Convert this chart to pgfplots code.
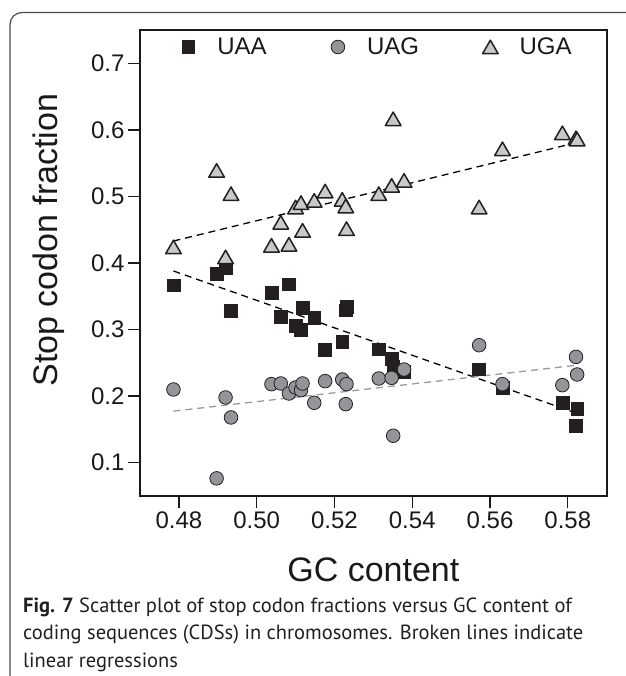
\documentclass[border=0pt]{standalone}
\usepackage{fontspec}
\setmainfont{Liberation Sans}
\newfontfamily\capfont{PT Sans}
\usepackage{pgfplots}
\usepackage{pgfplotstable}
\pgfplotsset{compat=1.18}
\definecolor{uaa}{HTML}{231F20}
\definecolor{uag}{HTML}{939598}
\definecolor{uga}{HTML}{C8C9CB}
\definecolor{regg}{HTML}{9A9A9A}

\pgfplotstableread{
x y
0.4786 0.3665
0.4897 0.384
0.4920 0.393
0.4934 0.328
0.5038 0.3555
0.5062 0.319
0.5083 0.368
0.5100 0.3055
0.5114 0.300
0.5118 0.333
0.5148 0.318
0.5176 0.270
0.5220 0.2815
0.5229 0.329
0.5231 0.334
0.5314 0.2705
0.5347 0.2565
0.5351 0.244
0.5379 0.2365
0.5572 0.2405
0.5632 0.2125
0.5786 0.1905
0.5821 0.155
0.5824 0.1815
}\uaa

\pgfplotstableread{
x y
0.4786 0.210
0.4897 0.0765
0.4920 0.198
0.4934 0.168
0.5038 0.218
0.5062 0.219
0.5083 0.204
0.5100 0.213
0.5114 0.209
0.5118 0.219
0.5148 0.190
0.5176 0.2225
0.5220 0.225
0.5229 0.188
0.5231 0.218
0.5314 0.2265
0.5347 0.2275
0.5351 0.1405
0.5379 0.240
0.5572 0.2765
0.5632 0.218
0.5786 0.2165
0.5821 0.259
0.5824 0.2325
}\uag

\pgfplotstableread{
x y
0.4786 0.424
0.4897 0.539
0.4920 0.409
0.4934 0.504
0.5038 0.4265
0.5062 0.461
0.5083 0.428
0.5100 0.484
0.5114 0.4905
0.5118 0.449
0.5148 0.494
0.5176 0.508
0.5220 0.4955
0.5229 0.4855
0.5231 0.4515
0.5314 0.504
0.5347 0.5165
0.5351 0.6165
0.5379 0.524
0.5572 0.484
0.5632 0.5715
0.5786 0.5955
0.5821 0.588
0.5824 0.586
}\uga

\begin{document}
\begin{tikzpicture}[x=1pt,y=1pt]
\useasboundingbox (0,0) rectangle (625,676);
\draw[black!70, line width=1.2pt, rounded corners=12pt] (10,-50) -- (10,663.5) -- (700,663.5);
\begin{axis}[
  at={(140pt,180pt)}, anchor=south west,
  scale only axis, width=466.7pt, height=466pt,
  xmin=0.47, xmax=0.59, ymin=0.05, ymax=0.75,
  axis line style={line width=1.6pt, black!90},
  tick style={line width=1.3pt, black!90},
  tick align=outside, tick pos=left, major tick length=12pt,
  xtick={0.48,0.50,0.52,0.54,0.56,0.58},
  xticklabels={0.48,0.50,0.52,0.54,0.56,0.58},
  ytick={0.1,0.2,0.3,0.4,0.5,0.6,0.7},
  yticklabels={0.1,0.2,0.3,0.4,0.5,0.6,0.7},
  ticklabel style={font=\fontsize{24}{28}\selectfont, text=black!90},
  xlabel={GC content}, ylabel={Stop codon fraction},
  label style={font=\fontsize{34}{40}\selectfont, text=black!90},
  xlabel style={at={(axis description cs:0.5,-0.159)}, anchor=center},
  ylabel style={at={(axis description cs:-0.195,0.549)}, anchor=center},
  legend columns=3,
  legend image code/.code={\path (-10pt,0pt) (10pt,0pt); \draw[#1] plot coordinates {(0pt,0pt)};},
  legend style={draw=none, fill=none, inner sep=0pt, outer sep=0pt,
    at={(axis description cs:0.0814,0.9635)}, anchor=west,
    nodes={inner sep=0pt}, font=\fontsize{24}{28}\selectfont, text=black!90,
    /tikz/every odd column/.append style={column sep=19pt},
    /tikz/every even column/.append style={column sep=61pt}},
]
\addplot[forget plot, black, line width=1.3pt, dash pattern=on 7pt off 5pt] coordinates {(0.4786,0.388) (0.5824,0.174)};
\addplot[forget plot, regg, line width=1.3pt, dash pattern=on 7pt off 5pt] coordinates {(0.4786,0.1775) (0.5824,0.2465)};
\addplot[forget plot, black, line width=1.3pt, dash pattern=on 7pt off 5pt] coordinates {(0.4786,0.433) (0.5824,0.581)};
\addplot[only marks, mark=square*, mark size=6.4pt, mark options={draw=uaa, fill=uaa, line width=0.5pt}] table {\uaa};
\addlegendentry{UAA}
\addplot[only marks, mark=*, mark size=6.8pt, mark options={draw=uaa, fill=uag, line width=0.8pt}] table {\uag};
\addlegendentry{UAG}
\addplot[only marks, mark=triangle*, mark size=9pt, mark options={draw=uaa, fill=uga, line width=1.5pt, line join=round, yshift=-2.2pt}] table {\uga};
\addlegendentry{UGA}
\end{axis}
\node[anchor=base west, inner sep=0pt, text=uaa, font=\capfont\fontsize{20.5}{24}\selectfont] at (23,63) {\textbf{Fig. 7} Scatter plot of stop codon fractions versus GC content of};
\node[anchor=base west, inner sep=0pt, text=uaa, font=\capfont\fontsize{20.5}{24}\selectfont] at (23,36) {coding sequences (CDSs) in chromosomes. Broken lines indicate};
\node[anchor=base west, inner sep=0pt, text=uaa, font=\capfont\fontsize{20.5}{24}\selectfont] at (23,9) {linear regressions};
\end{tikzpicture}
\end{document}
